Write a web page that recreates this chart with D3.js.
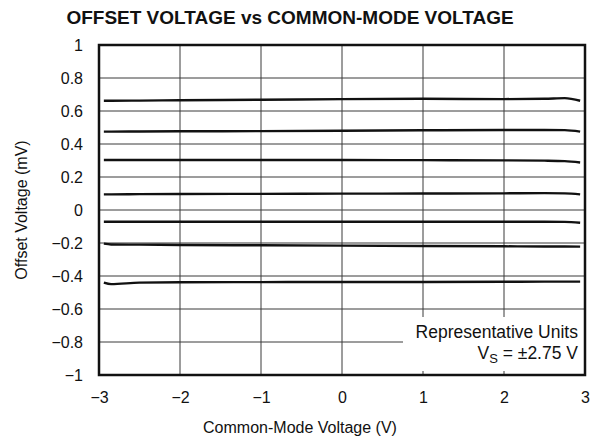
<!DOCTYPE html>
<html>
<head>
<meta charset="utf-8">
<script src="https://cdn.jsdelivr.net/npm/d3@7"></script>
<style>
  html, body { margin: 0; padding: 0; background: #fff; }
  svg { display: block; font-family: "Liberation Sans", Arial, sans-serif; }
</style>
</head>
<body>
<svg id="chart" width="598" height="443"></svg>
<script>
// ---- data ----
const xTicks = [-3, -2, -1, 0, 1, 2, 3];
const xTickLabels = ["\u22123", "\u22122", "\u22121", "0", "1", "2", "3"];
const yTicks = [-1, -0.8, -0.6, -0.4, -0.2, 0, 0.2, 0.4, 0.6, 0.8, 1];
const yTickLabels = ["\u22121", "\u22120.8", "\u22120.6", "\u22120.4", "\u22120.2", "0", "0.2", "0.4", "0.6", "0.8", "1"];

const vcm = [-2.94, -2.85, -2.5, -2, -1, 0, 1, 2, 2.5, 2.75, 2.94];
const unit1 = [0.662, 0.662, 0.663, 0.665, 0.668, 0.672, 0.674, 0.672, 0.674, 0.678, 0.662];
const unit2 = [0.475, 0.475, 0.476, 0.477, 0.478, 0.480, 0.483, 0.485, 0.485, 0.484, 0.475];
const unit3 = [0.303, 0.303, 0.303, 0.303, 0.303, 0.303, 0.302, 0.301, 0.299, 0.296, 0.288];
const unit4 = [0.095, 0.095, 0.096, 0.097, 0.098, 0.099, 0.100, 0.101, 0.102, 0.101, 0.095];
const unit5 = [-0.071, -0.071, -0.071, -0.071, -0.071, -0.071, -0.071, -0.071, -0.071, -0.072, -0.077];
const unit6 = [-0.204, -0.209, -0.210, -0.212, -0.214, -0.216, -0.218, -0.220, -0.221, -0.221, -0.222];
const unit7 = [-0.440, -0.449, -0.440, -0.438, -0.437, -0.436, -0.436, -0.435, -0.434, -0.434, -0.434];
const units = [unit1, unit2, unit3, unit4, unit5, unit6, unit7];

const title = "OFFSET VOLTAGE vs COMMON-MODE VOLTAGE";
const xTitle = "Common-Mode Voltage (V)";
const yTitle = "Offset Voltage (mV)";

// ---- layout ----
const svg = d3.select("#chart");
const L = 99, R = 585, T = 45, B = 375;
const x = d3.scaleLinear().domain([-3, 3]).range([L, R]);
const y = d3.scaleLinear().domain([-1, 1]).range([B, T]);

// gridlines
const grid = svg.append("g").attr("stroke", "#3a3a3a").attr("stroke-width", 1);
grid.selectAll("line.v").data(xTicks.slice(1, -1)).join("line")
  .attr("x1", d => x(d)).attr("x2", d => x(d)).attr("y1", T).attr("y2", B);
grid.selectAll("line.h").data(yTicks.slice(1, -1)).join("line")
  .attr("x1", L).attr("x2", R).attr("y1", d => y(d)).attr("y2", d => y(d));

// legend box (white, covers grid)
svg.append("rect").attr("x", 403).attr("y", 317).attr("width", R - 403).attr("height", B - 317)
  .attr("fill", "#fff");
// small inward ticks at bottom inside the legend box
svg.append("g").attr("stroke", "#3a3a3a").attr("stroke-width", 1)
  .selectAll("line").data([1, 2]).join("line")
  .attr("x1", d => x(d)).attr("x2", d => x(d)).attr("y1", B - 4).attr("y2", B);

// curves
const line = d3.line().x((d, i) => x(vcm[i])).y(d => y(d)).curve(d3.curveMonotoneX);
svg.append("g").selectAll("path").data(units).join("path")
  .attr("d", d => line(d))
  .attr("fill", "none").attr("stroke", "#111").attr("stroke-width", 2.4);

// frame
svg.append("rect").attr("x", L).attr("y", T).attr("width", R - L).attr("height", B - T)
  .attr("fill", "none").attr("stroke", "#111").attr("stroke-width", 2.5);

// axes labels
const xAxis = d3.axisBottom(x).tickValues(xTicks).tickFormat((d, i) => xTickLabels[i]).tickSize(0).tickPadding(0);
const gx = svg.append("g").attr("transform", `translate(0,${B})`).call(xAxis);
gx.select(".domain").remove();
gx.selectAll("text").attr("dy", null).attr("y", 28).attr("font-size", 16).attr("fill", "#111")
  .attr("font-family", "Liberation Sans, Arial, sans-serif");

const yAxis = d3.axisLeft(y).tickValues(yTicks).tickFormat((d, i) => yTickLabels[i]).tickSize(0).tickPadding(0);
const gy = svg.append("g").attr("transform", `translate(${L},0)`).call(yAxis);
gy.select(".domain").remove();
gy.selectAll("text").attr("x", -16).attr("dy", "0.36em").attr("font-size", 16).attr("fill", "#111")
  .attr("font-family", "Liberation Sans, Arial, sans-serif");

// title
svg.append("text").attr("x", 290).attr("y", 24).attr("text-anchor", "middle")
  .attr("font-size", 19).attr("font-weight", "bold").attr("fill", "#111").text(title);

svg.append("text").attr("x", 300).attr("y", 433).attr("text-anchor", "middle")
  .attr("font-size", 16).attr("fill", "#111").text(xTitle);

svg.append("text").attr("transform", `translate(27,${(T + B) / 2}) rotate(-90)`)
  .attr("text-anchor", "middle").attr("font-size", 16).attr("fill", "#111").text(yTitle);

// legend text
svg.append("text").attr("x", 578).attr("y", 338).attr("text-anchor", "end")
  .attr("font-size", 17.5).attr("fill", "#111").text("Representative Units");
const t2 = svg.append("text").attr("x", 578).attr("y", 359).attr("text-anchor", "end")
  .attr("font-size", 17.5).attr("fill", "#111");
t2.append("tspan").text("V");
t2.append("tspan").attr("font-size", 13).attr("dy", 4).text("S");
t2.append("tspan").attr("dy", -4).text(" = \u00b12.75 V");
</script>
</body>
</html>
